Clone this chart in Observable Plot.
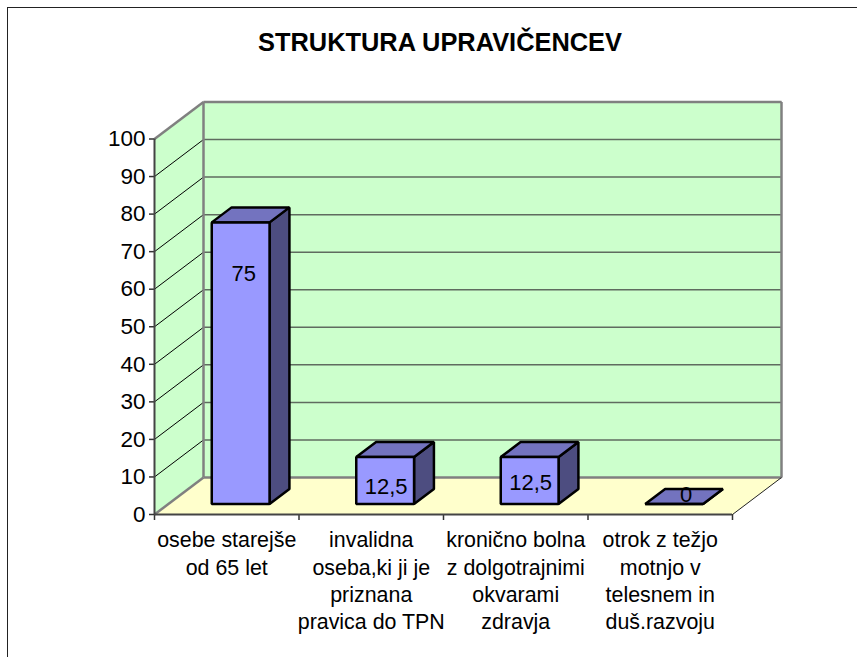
<!DOCTYPE html>
<html><head><meta charset="utf-8">
<script src="https://cdn.jsdelivr.net/npm/d3@7"></script>
<script src="https://cdn.jsdelivr.net/npm/@observablehq/plot@0.6"></script>
<style>
html,body{margin:0;padding:0;background:#fff;}
#wrap{position:relative;width:857px;height:657px;overflow:hidden;font-family:"Liberation Sans",Arial,sans-serif;}
#frame{position:absolute;left:7px;top:7px;right:-5px;bottom:-5px;border:1.5px solid #222;}
#title{position:absolute;left:0;top:28px;width:880px;text-align:center;font-weight:bold;font-size:25.4px;color:#000;}
#chart{position:absolute;left:0;top:0;}
</style></head><body>
<div id="wrap"><div id="frame"></div><div id="chart"></div><div id="title">STRUKTURA UPRAVIČENCEV</div></div>
<script>
const titleText = "STRUKTURA UPRAVIČENCEV";
const categories = [
  "osebe starejše\nod 65 let",
  "invalidna\noseba,ki ji je\npriznana\npravica do TPN",
  "kronično bolna\nz dolgotrajnimi\nokvarami\nzdravja",
  "otrok z težjo\nmotnjo v\ntelesnem in\nduš.razvoju"
];
const values = [75, 12.5, 12.5, 0];
const valueLabels = ["75", "12,5", "12,5", "0"];
const yTicks = d3.range(0, 101, 10);
const catEdges = d3.range(0, categories.length + 1);
const catCentres = categories.map((_, i) => i + 0.5);

// oblique 3D projection: depth 0 = front plane, depth 1 = back wall
const DX = 49 / 144.5, DY = 37 / 3.755;
const P = (c, v, d = 0) => ({x: c + d * DX, y: v + d * DY});
const poly = (pts, o) => Plot.line([...pts, pts[0], pts[1]], {x: "x", y: "y", strokeLinejoin: "miter", strokeLinecap: "butt", ...o});
const seg = (a, b, o) => Plot.link([0], {x1: () => a.x, y1: () => a.y, x2: () => b.x, y2: () => b.y, ...o});

const W = 4, grey = "#808080";
const marks = [
  poly([P(0,100,1),P(W,100,1),P(W,0,1),P(0,0,1)], {fill: "#ccffcc", stroke: "none"}),
  poly([P(0,0,0),P(0,100,0),P(0,100,1),P(0,0,1)], {fill: "#ccffcc", stroke: "none"}),
  poly([P(0,0,0),P(W,0,0),P(W,0,1),P(0,0,1)], {fill: "#ffffcc", stroke: "none"})
];
// gridlines
for (const t of yTicks.slice(1)) {
  marks.push(seg(P(0,t,1), P(W,t,1), {stroke: "#5f6b5f", strokeWidth: 1.5}));
  if (t < 100) marks.push(seg(P(0,t,0), P(0,t,1), {stroke: "#000", strokeWidth: 1}));
}
// wall outlines
marks.push(seg(P(0,100,0), P(0,100,1), {stroke: grey, strokeWidth: 2.5}));
marks.push(seg(P(0,0,0), P(0,0,1), {stroke: grey, strokeWidth: 2.5}));
marks.push(seg(P(0,0,1), P(0,100,1), {stroke: grey, strokeWidth: 2.5}));
marks.push(seg(P(0,100,1), P(W,100,1), {stroke: grey, strokeWidth: 2.5}));
marks.push(seg(P(W,100,1), P(W,0,1), {stroke: grey, strokeWidth: 2.5}));
marks.push(seg(P(0,0,1), P(W,0,1), {stroke: grey, strokeWidth: 2.5}));
marks.push(seg(P(W,0,0), P(W,0,1), {stroke: "#222", strokeWidth: 1}));

// axes
marks.push(Plot.axisY({ticks: yTicks, tickSize: 5, tickPadding: 4, label: null, fontSize: 22.5, stroke: "#333", strokeWidth: 1.5, color: "#000", tickFormat: d3.format("d")}));
marks.push(Plot.axisX({ticks: catEdges, tickSize: 6, tickFormat: () => "", label: null, stroke: "#333", strokeWidth: 1.5}));
marks.push(Plot.ruleY([0], {x1: 0, x2: W, stroke: "#444", strokeWidth: 2}));
marks.push(Plot.ruleX([0], {y1: 0, y2: 100, stroke: "#444", strokeWidth: 2}));
marks.push(Plot.axisX({ticks: catCentres, tickSize: 0, tickPadding: 13.5, label: null, fontSize: 21.4, lineHeight: 1.276, lineAnchor: "top", color: "#000",
  tickFormat: d => categories[Math.round(d - 0.5)]}));

// bars
const d0 = 10.5 / 37, d1 = 25.5 / 37, halfW = 0.2;
const sw = 2.5;
values.forEach((v, i) => {
  const c = i + 0.5, l = c - halfW, r = c + halfW;
  marks.push(poly([P(r,0,d0),P(r,v,d0),P(r,v,d1),P(r,0,d1)], {fill: "#4d4d80", stroke: "#000", strokeWidth: sw}));
  marks.push(poly([P(l,v,d0),P(r,v,d0),P(r,v,d1),P(l,v,d1)], {fill: "#7373bf", stroke: "#000", strokeWidth: sw}));
  marks.push(poly([P(l,0,d0),P(r,0,d0),P(r,v,d0),P(l,v,d0)], {fill: "#9999ff", stroke: "#000", strokeWidth: sw}));
});
// value labels, placed by hand in the source chart
const labelNudge = [[3, 52], [1, 30], [1, 26], [12, -9]];
values.forEach((v, i) => {
  const p = P(i + 0.5, v, d0);
  marks.push(Plot.text([valueLabels[i]], {x: () => p.x, y: () => p.y, dx: labelNudge[i][0], dy: labelNudge[i][1], fontSize: 22, fill: "#000"}));
});

const plot = Plot.plot({
  width: 857, height: 657,
  marginLeft: 154, marginRight: 125, marginTop: 138.5, marginBottom: 143,
  x: {domain: [0, W]}, y: {domain: [0, 100]},
  style: {fontFamily: '"Liberation Sans",Arial,sans-serif', overflow: "visible", background: "transparent"},
  marks
});
document.getElementById("chart").appendChild(plot);
document.getElementById("title").textContent = titleText;
</script>
</body></html>
